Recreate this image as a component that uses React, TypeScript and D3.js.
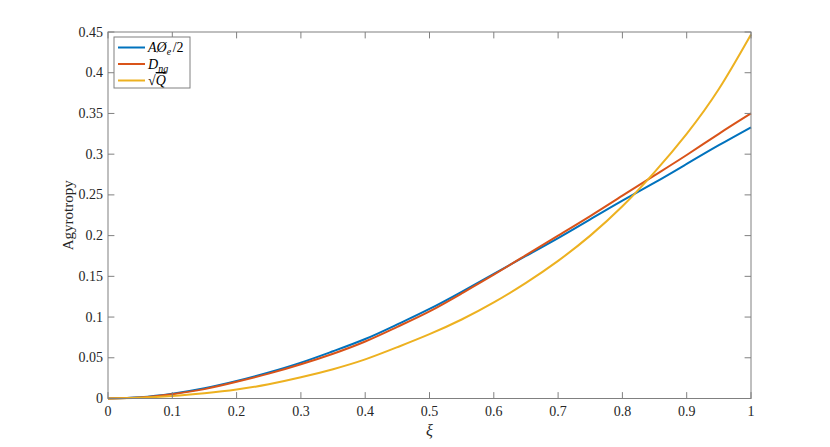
import React from "react";
import * as d3 from "d3";

const xi = [0, 0.05, 0.1, 0.15, 0.2, 0.25, 0.3, 0.35, 0.4, 0.45, 0.5, 0.55, 0.6, 0.65, 0.7, 0.75, 0.8, 0.85, 0.9, 0.95, 1];
const agyroHalf = [0, 0.0015, 0.0058, 0.0125, 0.0215, 0.032, 0.044, 0.058, 0.073, 0.091, 0.11, 0.131, 0.153, 0.175, 0.197, 0.22, 0.243, 0.265, 0.288, 0.311, 0.333];
const dng = [0, 0.0013, 0.0053, 0.0115, 0.0205, 0.0305, 0.042, 0.055, 0.07, 0.088, 0.107, 0.129, 0.152, 0.176, 0.2, 0.224, 0.249, 0.274, 0.299, 0.325, 0.35];
const sqrtQ = [0, 0.0008, 0.003, 0.0065, 0.011, 0.0175, 0.026, 0.036, 0.048, 0.063, 0.079, 0.097, 0.118, 0.142, 0.169, 0.2, 0.236, 0.278, 0.325, 0.38, 0.447];
const xTicks = [0, 0.1, 0.2, 0.3, 0.4, 0.5, 0.6, 0.7, 0.8, 0.9, 1];
const yTicks = [0, 0.05, 0.1, 0.15, 0.2, 0.25, 0.3, 0.35, 0.4, 0.45];
const colors = ["#0072BD", "#D95319", "#EDB120"];

const L = 108, R = 751, T = 32, B = 398.5;
const FONT = "'Liberation Serif', 'Times New Roman', serif";
const AX = "#808080";

export default function App() {
  const x = d3.scaleLinear().domain([0, 1]).range([L, R]);
  const y = d3.scaleLinear().domain([0, 0.45]).range([B, T]);
  const line = d3
    .line<[number, number]>()
    .x((d) => x(d[0]))
    .y((d) => y(d[1]))
    .curve(d3.curveNatural);
  const series = [agyroHalf, dng, sqrtQ];
  const tl = 6.4;
  const lgL = 114, lgT = 37, lgW = 76, lgH = 51;
  const rowY = [47.5, 64, 80.5];
  return (
    <svg width={830} height={447} style={{ position: "absolute", left: 0, top: 0, background: "#fff" }}>
      <rect x={0} y={0} width={830} height={447} fill="#fff" />
      {series.map((s, i) => (
        <path key={i} d={line(xi.map((v, j) => [v, s[j]]) as [number, number][]) || ""} fill="none" stroke={colors[i]} strokeWidth={2} />
      ))}
      <rect x={L} y={T} width={R - L} height={B - T} fill="none" stroke={AX} strokeWidth={1} />
      {xTicks.map((t) => (
        <g key={"x" + t}>
          <line x1={x(t)} x2={x(t)} y1={B} y2={B - tl} stroke={AX} />
          <line x1={x(t)} x2={x(t)} y1={T} y2={T + tl} stroke={AX} />
          <text x={x(t)} y={416} textAnchor="middle" fontFamily={FONT} fontSize={14} fill="#262626">
            {String(t)}
          </text>
        </g>
      ))}
      {yTicks.map((t) => (
        <g key={"y" + t}>
          <line x1={L} x2={L + tl} y1={y(t)} y2={y(t)} stroke={AX} />
          <line x1={R} x2={R - tl} y1={y(t)} y2={y(t)} stroke={AX} />
          <text x={103} y={y(t) + 4.5} textAnchor="end" fontFamily={FONT} fontSize={14} fill="#262626">
            {String(t)}
          </text>
        </g>
      ))}
      <text x={(L + R) / 2} y={436} textAnchor="middle" fontFamily={FONT} fontSize={16} fontStyle="italic" fill="#262626">
        ξ
      </text>
      <text transform={`translate(73,${(T + B) / 2}) rotate(-90)`} textAnchor="middle" fontFamily={FONT} fontSize={15} fill="#262626">
        Agyrotropy
      </text>
      <rect x={lgL} y={lgT} width={lgW} height={lgH} fill="#fff" stroke={AX} strokeWidth={1} />
      {rowY.map((ry, i) => (
        <line key={i} x1={118} x2={145} y1={ry} y2={ry} stroke={colors[i]} strokeWidth={2} />
      ))}
      <text x={148} y={rowY[0] + 4.5} fontFamily={FONT} fontSize={14} fill="#000">
        <tspan fontStyle="italic">AØ</tspan>
        <tspan fontStyle="italic" fontSize={10} dy={3}>e</tspan>
        <tspan dy={-3} dx={1.5}>/2</tspan>
      </text>
      <text x={148} y={rowY[1] + 4.5} fontFamily={FONT} fontSize={14} fill="#000">
        <tspan fontStyle="italic">D</tspan>
        <tspan fontStyle="italic" fontSize={10} dy={3}>ng</tspan>
      </text>
      <text x={148} y={rowY[2] + 4.5} fontFamily={FONT} fontSize={14} fill="#000">
        <tspan>√</tspan>
        <tspan fontStyle="italic" style={{ textDecoration: "overline" }}>Q</tspan>
      </text>
    </svg>
  );
}
